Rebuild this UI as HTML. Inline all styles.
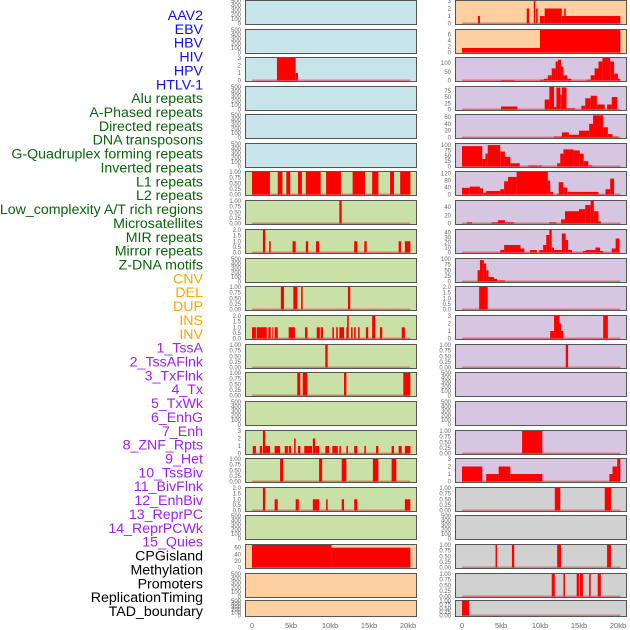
<!DOCTYPE html>
<html><head><meta charset="utf-8">
<style>
body{margin:0;background:#fff;overflow:hidden;}
svg{display:block;font-family:"Liberation Sans",sans-serif;}
</style></head>
<body>
<svg id="c" width="630" height="630" viewBox="0 0 630 630"></svg>
<script>
const labels=["AAV2","EBV","HBV","HIV","HPV","HTLV-1","Alu repeats","A-Phased repeats","Directed repeats","DNA transposons","G-Quadruplex forming repeats","Inverted repeats","L1 repeats","L2 repeats","Low_complexity A/T rich regions","Microsatellites","MIR repeats","Mirror repeats","Z-DNA motifs","CNV","DEL","DUP","INS","INV","1_TssA","2_TssAFlnk","3_TxFlnk","4_Tx","5_TxWk","6_EnhG","7_Enh","8_ZNF_Rpts","9_Het","10_TssBiv","11_BivFlnk","12_EnhBiv","13_ReprPC","14_ReprPCWk","15_Quies","CPGisland","Methylation","Promoters","ReplicationTiming","TAD_boundary"];
const labelColors=["#1010ee","#1010ee","#1010ee","#1010ee","#1010ee","#1010ee","#0a640a","#0a640a","#0a640a","#0a640a","#0a640a","#0a640a","#0a640a","#0a640a","#0a640a","#0a640a","#0a640a","#0a640a","#0a640a","#ffa500","#ffa500","#ffa500","#ffa500","#ffa500","#a020f0","#a020f0","#a020f0","#a020f0","#a020f0","#a020f0","#a020f0","#a020f0","#a020f0","#a020f0","#a020f0","#a020f0","#a020f0","#a020f0","#a020f0","#000","#000","#000","#000","#000"];
const rowTops=[0,29,57,86,114,143,171,200,229,258,286,315,344,372,401,430,458,487,515,544,573,600];
const E=[0,100,200,300,400,500], B=[0,0.25,0.5,0.75,1], T2=[0,0.5,1,1.5,2], T3=[0,1,2,3];
const leftBg=["b","b","b","b","b","b","g","g","g","g","g","g","g","g","g","g","g","g","g","o","o","o"];
const rightBg=["o","o","p","p","p","p","p","p","p","p","p","p","p","p","p","p","p","y","y","y","y","y"];
const leftTicks=[E,E,T3,E,E,E,B,B,T2,E,B,T2,B,B,E,T3,B,T2,E,[0,20,40,60],E,E];
const leftMax=[500,500,3,500,500,500,1,1,2,500,1,2,1,1,500,3,1,2,500,68,500,500];
const rightTicks=[T3,[0,2,4,6],[0,50,100],[0,25,50,75],[0,20,40,60],[0,25,50,75,100],[0,40,80,120],[0,20,40],[0,10,20,30,40],[0,25,50,75,100],T2,T3,B,E,E,B,T3,B,E,B,B,B];
const rightMax=[3,7.5,130,90,66,105,128,55,45,100,2,3,1,500,500,1,3,1,500,1,1,1];
const leftBars=[[],[],[[3.2,5.6,3],[5.6,5.9,1]],[],[],[],
[[0,2.3,1],[3.3,3.9,1],[4.4,4.9,1],[5.9,6.4,1],[6.9,8.8,1],[9.5,11.4,1],[12.9,14.5,1],[15.4,16.2,1],[17.7,18.2,1],[19,20.3,1]],
[[11.2,11.5,1]],
[[1.4,1.7,2],[2.2,2.4,1],[5.2,5.6,1],[6.9,7.2,1],[8.2,8.6,1],[13.1,13.5,1],[14.4,14.7,1],[18.8,19.1,1],[19.6,20.3,1]],
[],
[[3.7,4.1,1],[5.3,5.8,1],[6.3,6.5,1],[12.3,12.6,1]],
[[0,0.5,1],[0.6,1.9,1],[2.1,2.4,1],[2.6,2.7,1],[2.9,3.3,1],[4.7,5.5,1],[6.8,7.1,1],[8.3,8.7,1],[8.8,9.1,1],[10.3,10.5,1],[10.8,11,1],[11.2,11.8,1],[12.1,12.3,1],[12.2,12.4,2],[12.7,12.9,1],[13.1,13.3,1],[13.6,13.8,1],[14.6,14.9,1],[15.4,15.8,2],[16.4,16.7,1],[19.2,19.6,1]],
[[9.4,9.7,1]],
[[5.8,6.2,1],[6.5,7.1,1],[11.8,12.1,1],[19.4,20.3,1]],
[],
[[0.1,0.5,1],[1.0,1.3,1],[1.4,1.7,3],[1.7,2.3,1],[2.9,3.6,1],[4.2,4.6,1],[4.7,5.0,1],[5.4,5.6,2],[5.9,6.2,1],[6.7,7.7,1],[7.8,8.1,2],[8.1,8.6,1],[9.4,9.9,1],[10.3,11.0,1],[11.2,11.4,1],[12.1,12.3,1],[13.1,13.5,1],[14.4,14.6,1],[15.9,16.2,1],[17.9,18.2,1],[18.8,19.2,1],[19.6,20.3,1]],
[[3.6,4.0,1],[8.6,9.0,1],[11.5,12.1,1],[15.5,16.2,1],[17.9,18.5,1]],
[[1.4,1.7,2],[2.9,3.3,1],[5.6,6.0,1],[7.8,8.6,1],[9.5,9.7,1],[11.5,11.8,1],[13.1,13.5,1],[19.6,20.3,1]],
[],
[[0,10.2,68],[10.2,20.3,60]],
[],[]];
const rightBars=[
[[2.05,2.3,1],[8.3,8.6,2],[9.2,9.4,3],[9.5,9.7,2],[10,10.6,1],[10.6,12.8,2],[13.1,13.3,2],[12.8,20.3,1]],
[[0,10,1.5],[10,20.3,7.5]],
[[5,6.7,3],[10,10.5,5],[10.5,11,10],[11,11.5,30],[11.5,12,70],[12,12.3,110],[12.3,12.7,120],[12.7,13,80],[13,13.5,30],[13.5,14,10],[16,16.5,5],[16.5,17,30],[17,17.5,70],[17.5,18,110],[18,19,130],[19,19.5,110],[19.5,20,40],[20,20.3,10]],
[[5,7.1,12],[10.6,11.2,40],[11.2,11.8,90],[11.8,12.1,10],[12.1,12.6,88],[12.6,12.8,60],[12.8,13.4,88],[13.4,14.5,5],[15.3,15.8,15],[15.8,16.5,45],[16.5,17.3,55],[17.3,18.3,20],[18.6,19.2,20],[19.2,19.9,50]],
[[11.8,12.8,3],[12.8,13.7,15],[13.7,15,8],[15,16.3,20],[16.3,16.8,40],[16.8,18.1,65],[18.1,18.7,30],[18.7,19.3,10],[19.3,20,3]],
[[0,2.6,95],[2.6,3.0,35],[3.0,3.3,60],[3.3,4.9,100],[4.9,5.5,70],[5.5,6.2,45],[6.2,7.4,15],[8.5,9.7,5],[9.8,10.2,5],[12.2,12.6,15],[12.6,13,60],[13,14.3,80],[14.3,15.1,75],[15.1,15.6,60],[15.6,16.2,25],[16.2,16.7,5]],
[[0,1,38],[1,2.3,45],[2.3,2.7,35],[2.7,3.1,10],[3.1,4.9,20],[4.9,5.4,30],[5.4,5.9,75],[5.9,7,100],[7,11,128],[11,11.3,80],[11.3,11.7,15],[12.2,12.4,5],[12.4,13,70],[13,13.5,40],[13.5,17.5,15],[18.4,19,30],[19,19.5,90]],
[[0.6,1.3,3],[3.8,4.6,3],[4.6,5.5,8],[5.5,6.7,3],[11.2,12.1,3],[12.7,13.2,10],[13.2,15,30],[15,15.8,35],[15.8,16.5,45],[16.5,16.9,55],[16.9,17.5,30],[17.5,17.8,5]],
[[4.9,5.4,5],[5.4,7.5,15],[7.5,8,8],[8.7,9.6,5],[9.9,10.4,5],[10.4,10.8,15],[10.8,11.2,35],[11.2,11.5,45],[11.5,11.8,10],[11.8,12.8,5],[12.8,13.3,38],[13.3,13.6,25],[13.6,14.1,5],[15.5,15.9,3],[15.9,17.1,5],[17.1,17.7,10],[17.7,18.1,3],[19.2,19.7,8],[19.7,20.2,28]],
[[2.0,2.3,50],[2.3,2.8,95],[2.8,3.1,80],[3.1,3.4,50],[3.4,4.1,20],[4.1,4.5,12],[4.5,5.5,5]],
[[2.2,3.3,2]],
[[11.3,11.8,1],[11.8,12.5,3],[12.5,12.7,2],[12.7,13,1],[18.1,18.7,3]],
[[13.3,13.6,1]],
[],[],
[[7.7,10.3,1]],
[[0,2.6,2],[3.1,4.7,1],[4.7,6.2,2],[6.2,10.3,1],[18.9,19.3,1],[19.3,19.9,2],[19.9,20.3,3]],
[[11.9,12.6,1],[18.3,19.1,1]],
[],
[[4.3,4.5,1],[6.4,6.7,1],[12.2,12.7,1],[18.6,19.1,1]],
[[11.5,11.9,1],[13,13.2,1],[14.7,15,1],[15.1,15.5,1],[16.3,16.5,1],[17.4,17.8,1]],
[[0,0.9,1]]];
const xTickVals=[0,5,10,15,20];
const xTickText=["0","5kb","10kb","15kb","20kb"];

const NS="http://www.w3.org/2000/svg";
const svg=document.getElementById('c');
const bgc={b:"#c8e4eb",g:"#c9e1a6",o:"#ffd09f",p:"#d6c6e2",y:"#d1d1d1"};
function mk(t,a,p){const e=document.createElementNS(NS,t);for(const k in a)e.setAttribute(k,a[k]);(p||svg).appendChild(e);return e;}
function fmt(v,ticks){if(ticks===B)return v.toFixed(2);if(ticks===T2)return v.toFixed(1);return String(v);}
function xs(col,kb){return (col?462:252)+kb*7.8;}
function rowH(i){return i===21?17:25;}

labels.forEach((s,i)=>{
  const t=mk('text',{x:203,y:20+i*13.86,'text-anchor':'end','font-size':14.2,fill:labelColors[i]});
  t.textContent=s;
  
  
});

function panel(col,i){
  const top=rowTops[i],h=rowH(i),x0=col?455:245,w=172;
  const bg=(col?rightBg:leftBg)[i],ticks=(col?rightTicks:leftTicks)[i],ymax=(col?rightMax:leftMax)[i],bars=(col?rightBars:leftBars)[i];
  const g=mk('g',{});
  
  
  mk('rect',{x:x0,y:top,width:w,height:h,fill:bgc[bg]},g);
  const yb=top+h-1.5,yt=top+1;
  const ys=v=>yb-(v/ymax)*(yb-yt);
  ticks.forEach(v=>{
    const t=mk('text',{x:x0-4,y:ys(v)+2,'text-anchor':'end','font-size':6,fill:'#666'},g);
    t.textContent=fmt(v,ticks);
    
    
  });
  if(bars.length){
    const bl=mk('rect',{x:xs(col,0),y:yb-1,width:xs(col,20.3)-xs(col,0),height:1.5,fill:'#d44',opacity:0.6},g);
    
    
  }
  bars.forEach(d=>{
    const r=mk('rect',{x:xs(col,d[0]),y:ys(Math.min(d[2],ymax)),width:Math.max(1,xs(col,d[1])-xs(col,d[0])),height:yb-ys(Math.min(d[2],ymax)),fill:'#ff0000'},g);
    
    
  });
  mk('rect',{x:x0+0.5,y:top+0.5,width:w-1,height:h-1,fill:'none',stroke:'#555',"stroke-width":1},g);
}
for(let i=0;i<22;i++){panel(0,i);panel(1,i);}
[0,1].forEach(col=>{
  xTickVals.forEach((v,k)=>{
    const t=mk('text',{x:xs(col,v),y:628,'text-anchor':'middle','font-size':7.5,fill:'#666'});
    t.textContent=xTickText[k];
    
    
  });
});
</script>
</body></html>
